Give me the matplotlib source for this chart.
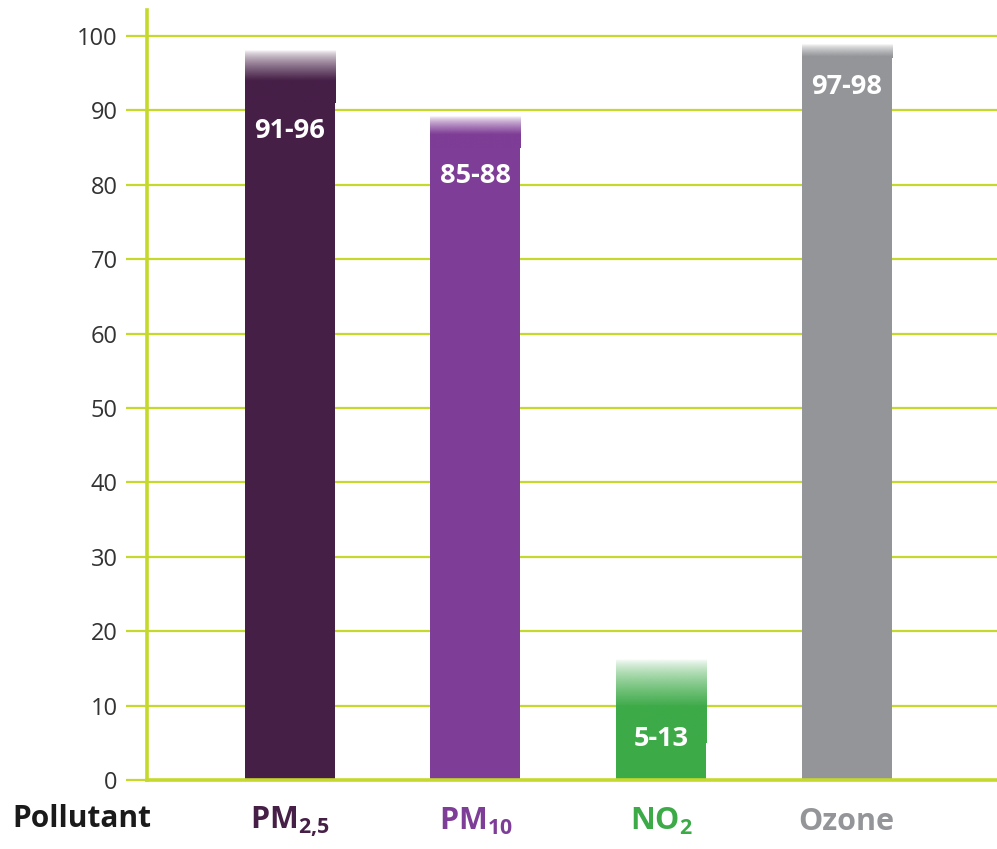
import numpy as np
import matplotlib
matplotlib.use("Agg")
import matplotlib.pyplot as plt
from matplotlib.colors import to_rgb

plt.rcParams["font.family"] = ["Open Sans", "DejaVu Sans"]
plt.rcParams["mathtext.fontset"] = "custom"
plt.rcParams["mathtext.rm"] = "Open Sans"
plt.rcParams["mathtext.bf"] = "Open Sans:bold"

# Share of urban population exposed (%), given as low-high ranges
pollutants = ["PM$_{\\mathbf{2{,}5}}$", "PM$_{\\mathbf{10}}$", "NO$_{\\mathbf{2}}$", "Ozone"]
range_low = [91, 85, 5, 97]
range_high = [96, 88, 13, 98]
range_labels = ["91-96", "85-88", "5-13", "97-98"]
bar_colors = ["#461f47", "#7e3d96", "#3daa48", "#939598"]
yticks = [0, 10, 20, 30, 40, 50, 60, 70, 80, 90, 100]

grid_color = "#c5d92d"

fig = plt.figure(figsize=(9.97, 8.49), dpi=100)
ax = fig.add_axes([0.1474, 0.0813, 0.8526, 0.907])

x = np.arange(len(pollutants))
width = 0.485

for xi, lo, hi, col, lab in zip(x, range_low, range_high, bar_colors, range_labels):
    # solid part of the bar up to the lower bound of the range
    ax.bar(xi, lo, width=width, color=col, zorder=3, linewidth=0)
    # uncertain part: fades out around the upper bound
    w = max(0.4 * (hi - lo), 0.8)
    top = hi + w
    yy = np.linspace(lo, top, 200)
    alpha = np.clip((hi + w - yy) / (2 * w), 0, 1)
    alpha = alpha ** 0.7
    rgba = np.zeros((200, 2, 4))
    rgba[..., :3] = to_rgb(col)
    rgba[..., 3] = alpha[:, None]
    ax.imshow(rgba, extent=[xi - width / 2, xi + width / 2, lo, top],
              origin="lower", aspect="auto", zorder=3, interpolation="bilinear")
    ypos = max(lo - 3.8, hi / 2 - 1)
    ax.text(xi, ypos, lab, ha="center", va="center", color="white",
            fontsize=19.5, fontweight="bold", zorder=4)

ax.set_xlim(-0.77, 3.81)
ax.set_ylim(0, 103.5)

ax.set_yticks(yticks)
ax.set_yticklabels([str(t) for t in yticks], fontsize=17, color="#333333")
ax.tick_params(axis="y", length=15, width=1.6, color=grid_color, pad=6)
ax.set_xticks([])

for t in yticks[1:]:
    ax.axhline(t, color=grid_color, linewidth=1.6, zorder=1)

for s in ["top", "right"]:
    ax.spines[s].set_visible(False)
for s in ["left", "bottom"]:
    ax.spines[s].set_color(grid_color)
    ax.spines[s].set_linewidth(2.6)
    ax.spines[s].set_zorder(5)

# category labels under the axis
for xi, name, col in zip(x, pollutants, bar_colors):
    ax.text(xi, -5.6, name, ha="center", va="center", color=col,
            fontsize=22, fontweight="bold", transform=ax.transData, clip_on=False)
fig.text(0.012, 0.035, "Pollutant", ha="left", va="center", fontsize=21.5,
         fontweight="bold", color="#1a1a1a", transform=fig.transFigure)

fig.savefig("out.png", dpi=100)
